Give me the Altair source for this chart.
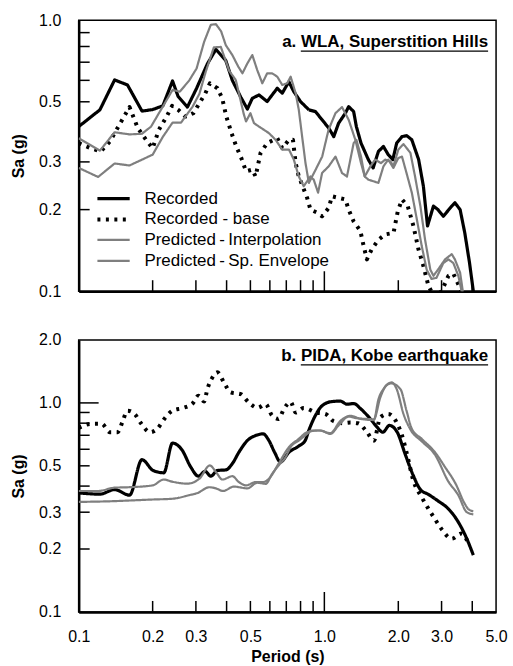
import altair as alt
import pandas as pd

FONT = "Liberation Sans"
SERIES = ["Recorded", "Recorded - base",
          "Predicted\u2009-\u2009Interpolation", "Predicted\u2009-\u2009Sp. Envelope"]

# ---------------- panel a : WLA, Superstition Hills ----------------
a_rec_T = [0.100,0.122,0.140,0.158,0.181,0.200,0.220,0.241,0.254,0.277,0.302,0.334,0.362,0.397,0.422,0.457,0.486,0.509,0.542,0.585,0.613,0.643,0.674,0.717,0.751,0.800,0.865,0.920,0.979,1.042,1.092,1.143,1.218,1.256,1.316,1.350,1.410,1.510,1.580,1.660,1.740,1.820,1.900,1.970,2.070,2.165,2.270,2.420,2.530,2.630,2.780,2.900,3.050,3.300,3.400,3.570,3.730,3.900,4.040]
a_rec_Sa = [0.405,0.467,0.602,0.577,0.462,0.468,0.483,0.597,0.523,0.478,0.561,0.690,0.781,0.710,0.600,0.520,0.470,0.515,0.530,0.501,0.530,0.561,0.538,0.593,0.545,0.501,0.467,0.460,0.429,0.400,0.372,0.417,0.454,0.480,0.460,0.405,0.352,0.306,0.285,0.328,0.342,0.319,0.306,0.352,0.372,0.375,0.362,0.306,0.244,0.174,0.206,0.200,0.189,0.206,0.212,0.200,0.164,0.127,0.100]

a_base_T = [0.100,0.112,0.123,0.134,0.149,0.161,0.174,0.188,0.200,0.212,0.228,0.240,0.254,0.272,0.293,0.310,0.327,0.342,0.367,0.384,0.399,0.419,0.438,0.459,0.480,0.509,0.525,0.550,0.585,0.643,0.674,0.718,0.745,0.764,0.787,0.851,0.878,0.934,0.979,1.042,1.074,1.143,1.218,1.256,1.316,1.401,1.445,1.490,1.560,1.662,1.770,1.912,1.990,2.070,2.185,2.305,2.415,2.530,2.650,2.800,3.000,3.200,3.350,3.510,3.700]
a_base_Sa = [0.352,0.337,0.328,0.357,0.423,0.478,0.400,0.362,0.337,0.394,0.441,0.483,0.467,0.441,0.454,0.494,0.535,0.585,0.561,0.515,0.441,0.383,0.342,0.310,0.277,0.281,0.265,0.324,0.352,0.367,0.337,0.362,0.362,0.297,0.265,0.221,0.200,0.195,0.189,0.203,0.224,0.221,0.218,0.200,0.181,0.167,0.147,0.131,0.143,0.155,0.162,0.164,0.197,0.218,0.206,0.174,0.143,0.124,0.105,0.095,0.100,0.114,0.116,0.106,0.095]

a_int_T = [0.100,0.122,0.140,0.161,0.181,0.197,0.220,0.241,0.258,0.282,0.302,0.324,0.345,0.362,0.380,0.397,0.422,0.446,0.464,0.486,0.509,0.533,0.559,0.585,0.613,0.643,0.674,0.706,0.729,0.764,0.787,0.812,0.838,0.865,0.920,0.980,1.040,1.110,1.180,1.256,1.337,1.410,1.460,1.540,1.610,1.700,1.770,1.860,1.910,2.000,2.100,2.240,2.340,2.460,2.570,2.700,2.780,2.900,3.100,3.300,3.400,3.570,3.660,3.750]
a_int_Sa = [0.367,0.330,0.386,0.379,0.381,0.405,0.480,0.553,0.545,0.600,0.664,0.832,0.962,0.967,0.910,0.809,0.744,0.675,0.637,0.693,0.744,0.655,0.585,0.637,0.637,0.619,0.577,0.585,0.619,0.538,0.467,0.372,0.297,0.251,0.280,0.314,0.394,0.454,0.478,0.429,0.362,0.297,0.265,0.289,0.306,0.297,0.306,0.301,0.289,0.333,0.349,0.324,0.265,0.206,0.155,0.120,0.114,0.120,0.131,0.137,0.131,0.117,0.100,0.092]

a_env_T = [0.100,0.120,0.140,0.161,0.200,0.220,0.241,0.261,0.291,0.310,0.329,0.355,0.379,0.410,0.436,0.470,0.480,0.500,0.517,0.542,0.568,0.595,0.633,0.674,0.718,0.751,0.787,0.824,0.878,0.905,0.943,0.979,1.042,1.110,1.180,1.236,1.316,1.350,1.410,1.460,1.510,1.660,1.740,1.820,1.910,2.000,2.070,2.160,2.270,2.380,2.490,2.610,2.730,2.860,3.050,3.200,3.350,3.510,3.620,3.700]
a_env_Sa = [0.285,0.264,0.296,0.291,0.319,0.371,0.419,0.419,0.480,0.535,0.646,0.794,0.797,0.650,0.602,0.450,0.423,0.454,0.417,0.405,0.394,0.383,0.362,0.333,0.333,0.306,0.265,0.244,0.265,0.258,0.231,0.273,0.289,0.314,0.273,0.265,0.352,0.362,0.314,0.265,0.258,0.251,0.289,0.306,0.285,0.310,0.314,0.273,0.231,0.184,0.147,0.120,0.111,0.112,0.127,0.131,0.127,0.114,0.100,0.092]

# ---------------- panel b : PIDA, Kobe earthquake ----------------
b_rec_T = [0.100,0.122,0.140,0.161,0.181,0.201,0.222,0.241,0.263,0.286,0.307,0.327,0.345,0.367,0.397,0.422,0.449,0.486,0.525,0.563,0.595,0.627,0.663,0.718,0.787,0.835,0.865,0.910,0.980,1.074,1.162,1.236,1.316,1.410,1.540,1.640,1.730,1.840,1.980,2.130,2.300,2.460,2.650,2.900,3.200,3.510,3.800,4.040]
b_rec_Sa = [0.371,0.366,0.385,0.362,0.535,0.475,0.463,0.642,0.597,0.493,0.446,0.471,0.446,0.475,0.478,0.512,0.581,0.661,0.698,0.711,0.660,0.581,0.522,0.581,0.622,0.660,0.740,0.850,0.970,1.015,1.020,0.986,0.993,0.934,0.838,0.765,0.724,0.780,0.724,0.571,0.450,0.385,0.365,0.340,0.311,0.269,0.224,0.187]

b_base_T = [0.100,0.113,0.124,0.134,0.144,0.151,0.158,0.169,0.180,0.195,0.209,0.223,0.241,0.266,0.291,0.307,0.324,0.334,0.349,0.367,0.390,0.416,0.457,0.492,0.535,0.577,0.613,0.651,0.684,0.729,0.764,0.824,0.922,1.010,1.092,1.190,1.276,1.370,1.490,1.590,1.690,1.820,1.970,2.070,2.180,2.300,2.490,2.650,2.820,3.000,3.300,3.620,3.860]
b_base_Sa = [0.760,0.794,0.794,0.724,0.724,0.817,0.918,0.885,0.794,0.724,0.753,0.838,0.918,0.946,0.994,1.082,1.015,1.164,1.314,1.400,1.253,1.122,1.101,1.006,0.948,0.986,0.868,0.838,0.934,1.010,0.900,0.946,0.900,0.885,0.817,0.800,0.806,0.799,0.726,0.660,0.853,0.885,0.806,0.700,0.555,0.427,0.354,0.312,0.278,0.249,0.224,0.237,0.213]

b_int_T = [0.100,0.120,0.140,0.160,0.200,0.222,0.240,0.277,0.310,0.342,0.362,0.385,0.422,0.449,0.480,0.525,0.563,0.595,0.651,0.718,0.787,0.851,0.949,1.058,1.162,1.276,1.410,1.590,1.660,1.740,1.870,2.040,2.160,2.270,2.490,2.820,3.100,3.420,3.730,3.850,4.040]
b_int_Sa = [0.379,0.379,0.393,0.395,0.403,0.430,0.420,0.411,0.434,0.502,0.467,0.430,0.446,0.418,0.403,0.418,0.418,0.434,0.512,0.615,0.673,0.724,0.738,0.717,0.820,0.868,0.838,0.828,1.040,1.164,1.240,1.164,0.918,0.752,0.673,0.581,0.493,0.411,0.329,0.311,0.303]

b_env_T = [0.100,0.130,0.200,0.241,0.282,0.305,0.340,0.362,0.387,0.429,0.449,0.486,0.533,0.577,0.613,0.651,0.695,0.729,0.787,0.851,0.890,0.966,1.058,1.143,1.256,1.350,1.490,1.590,1.690,1.780,1.880,1.970,2.100,2.250,2.490,2.820,3.200,3.510,3.800,4.040]
b_env_Sa = [0.336,0.338,0.345,0.348,0.362,0.371,0.395,0.390,0.379,0.398,0.395,0.390,0.415,0.410,0.458,0.502,0.550,0.615,0.660,0.711,0.738,0.738,0.711,0.780,0.860,0.846,0.838,0.835,1.063,1.208,1.253,1.164,0.885,0.740,0.655,0.565,0.420,0.362,0.300,0.293]

# ---------------- axes / ticks ----------------
x_label_vals = [0.1, 0.2, 0.3, 0.5, 1.0, 2.0, 3.0, 5.0]
x_minor_ticks = [0.2, 0.3, 0.4, 0.5, 0.6, 0.7, 0.8, 0.9, 2.0, 3.0, 4.0]
x_major_ticks = [1.0]
ya_label_vals = [0.1, 0.2, 0.3, 0.5, 1.0]
ya_minor_ticks = [0.2, 0.3, 0.5, 0.6, 0.7, 0.8, 0.9]
yb_label_vals = [0.1, 0.2, 0.3, 0.5, 1.0, 2.0]
yb_minor_ticks = [0.2, 0.3, 0.4, 0.5, 0.6, 0.7, 0.8, 0.9]
yb_major_ticks = [1.0]

W = 419


def long_df(parts):
    rows = []
    for name, ts, vs in parts:
        for t, v in zip(ts, vs):
            rows.append({"series": name, "T": t, "Sa": v})
    return pd.DataFrame(rows)


df_a = long_df([(SERIES[0], a_rec_T, a_rec_Sa), (SERIES[1], a_base_T, a_base_Sa),
                (SERIES[2], a_int_T, a_int_Sa), (SERIES[3], a_env_T, a_env_Sa)])
df_b = long_df([(SERIES[0], b_rec_T, b_rec_Sa), (SERIES[1], b_base_T, b_base_Sa),
                (SERIES[2], b_int_T, b_int_Sa), (SERIES[3], b_env_T, b_env_Sa)])

xscale = alt.Scale(type="log", domain=[0.1, 5.0], nice=False)


def panel(df, H, ydom, ylabels, yminor, ymajor, pre, main, bottom, legend, interp, title_base):
    yscale = alt.Scale(type="log", domain=ydom, nice=False)
    if bottom:
        xaxis = alt.Axis(values=x_label_vals, format=".1f", labelFlush=False, labelOverlap=False,
                         title="Period (s)", labelPadding=17, titlePadding=4)
    else:
        xaxis = alt.Axis(values=x_label_vals, labels=False, title=None)
    yaxis = alt.Axis(values=ylabels, format=".1f", labelFlush=False, labelOverlap=False,
                     title="Sa (g)", labelPadding=18, titlePadding=12)
    X = alt.X("T:Q", scale=xscale, axis=xaxis)
    Y = alt.Y("Sa:Q", scale=yscale, axis=yaxis)

    color = alt.Color("series:N", scale=alt.Scale(domain=SERIES, range=["#000000", "#000000", "#7f7f7f", "#7f7f7f"]),
                      legend=legend)
    dash = alt.StrokeDash("series:N", scale=alt.Scale(domain=SERIES, range=[[1, 0], [3, 5.5], [1, 0], [1, 0]]),
                          legend=legend)
    sw = alt.StrokeWidth("series:N", scale=alt.Scale(type="ordinal", domain=SERIES, range=[3.2, 4, 2.2, 2.2]),
                         legend=legend)
    lines = alt.Chart(df).mark_line(clip=True, strokeCap="butt", strokeJoin="round",
                                    interpolate=interp).encode(
        x=X, y=Y, color=color, strokeDash=dash, strokeWidth=sw)

    layers = [lines]
    layers.append(alt.Chart(pd.DataFrame({"Sa": yminor})).mark_rule(color="black", strokeWidth=1.5).encode(
        y=Y, x=alt.value(0), x2=alt.value(11)))
    if ymajor:
        layers.append(alt.Chart(pd.DataFrame({"Sa": ymajor})).mark_rule(color="black", strokeWidth=1.5).encode(
            y=Y, x=alt.value(0), x2=alt.value(20)))
    layers.append(alt.Chart(pd.DataFrame({"T": x_minor_ticks})).mark_rule(color="black", strokeWidth=1.5).encode(
        x=X, y=alt.value(H), y2=alt.value(H - 11)))
    layers.append(alt.Chart(pd.DataFrame({"T": x_major_ticks})).mark_rule(color="black", strokeWidth=1.5).encode(
        x=X, y=alt.value(H), y2=alt.value(H - 20)))

    # panel title, right aligned, main part underlined
    fs = 17
    tdf = pd.DataFrame({"t": [pre + " " + main]})
    right = W - 8
    layers.append(alt.Chart(tdf).mark_text(align="right", baseline="alphabetic", font=FONT, fontSize=fs,
                                           fontWeight="bold", color="black").encode(
        text="t:N", x=alt.value(right), y=alt.value(title_base)))
    under_w = 11.06 * fs
    layers.append(alt.Chart(tdf).mark_rule(color="black", strokeWidth=1.3).encode(
        x=alt.value(right - under_w), x2=alt.value(right), y=alt.value(title_base + 4)))

    return alt.layer(*layers).properties(width=W, height=H)


legend_a = alt.Legend(title=None, orient="none", legendX=24, legendY=168, padding=0, offset=0,
                      labelFont=FONT, labelFontSize=17, labelColor="black", labelOffset=20, labelLimit=400,
                      symbolType="M-1.8,0H1.8", symbolSize=324, rowPadding=2)

top = panel(df_a, 272, [0.1, 1.0], ya_label_vals, ya_minor_ticks, [], "a.", "WLA, Superstition Hills",
            False, legend_a, "linear", 27)
bot = panel(df_b, 273, [0.1, 2.0], yb_label_vals, yb_minor_ticks, yb_major_ticks, "b.", "PIDA, Kobe earthquake",
            True, None, "monotone", 21)

chart = alt.vconcat(top, bot, spacing=31).resolve_scale(
    color="independent", strokeDash="independent", strokeWidth="independent"
).properties(
    padding={"left": 10, "top": 10, "right": 5, "bottom": 5}
).configure_axis(
    labelFont=FONT, titleFont=FONT, labelFontSize=16, titleFontSize=16, titleFontWeight="bold",
    labelColor="black", titleColor="black", domainColor="black", domainWidth=2.5, grid=False, ticks=False
).configure_view(stroke="black", strokeWidth=1.5)

chart.save("out.html", embed_options={"renderer": "svg", "actions": False})
